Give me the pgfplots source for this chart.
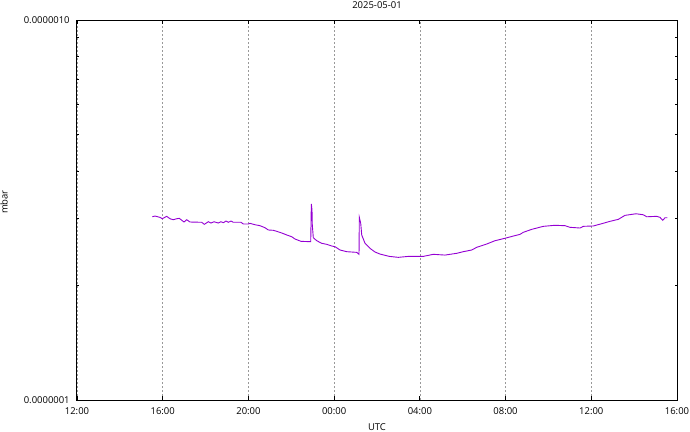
\documentclass[border=0pt]{standalone}
\usepackage{fontspec}
\setmainfont{Open Sans}
\usepackage{pgfplots}
\pgfplotsset{compat=1.18}
\definecolor{dv}{HTML}{9400D3}
\begin{document}
\fontsize{9.5}{11}\selectfont
\begin{tikzpicture}
\useasboundingbox (-77bp,-32bp) rectangle (613bp,400bp);
\begin{axis}[
  scale only axis, width=600bp, height=380bp,
  xmin=0, xmax=28, ymode=log, ymin=1e-7, ymax=1e-6,
  xtick={0,4,...,28},
  xticklabels={12:00,16:00,20:00,00:00,04:00,08:00,12:00,16:00},
  ytick={1e-7,1e-6}, yticklabels={0.0000001,0.0000010},
  minor ytick={2e-7,3e-7,4e-7,5e-7,6e-7,7e-7,8e-7,9e-7},
  xmajorgrids=true,
  grid style={dash pattern=on 2bp off 2bp, black!40, line width=0.7bp},
  tick align=inside, major tick length=4bp, minor tick length=2.5bp,
  axis line style={line width=1bp},
  every tick/.style={black, line width=0.8bp},
  /pgf/number format/assume math mode=true,
  every axis title shift=0pt,
  title={2025-05-01}, xlabel={UTC}, ylabel={mbar},
  title style={at={(axis description cs:0.5,1.0308)}, anchor=base, inner sep=0pt},
  xlabel style={at={(axis description cs:0.5,-0.0808)}, anchor=base, inner sep=0pt},
  ylabel style={at={(axis description cs:-0.1158,0.521)}, anchor=base, inner sep=0pt},
  xticklabel style={anchor=base, yshift=-14bp},
  yticklabel style={anchor=east, xshift=-4bp},
  clip=false,
]
\addplot[dv, line width=0.9bp] coordinates {
(3.514,3.036e-7) (3.640,3.049e-7) (3.873,3.025e-7) (3.981,3.000e-7) (4.186,3.044e-7)
(4.340,3.000e-7) (4.494,2.982e-7) (4.653,3.000e-7) (4.774,3.007e-7) (4.994,2.941e-7)
(5.120,2.982e-7) (5.274,2.941e-7) (5.820,2.936e-7) (5.941,2.900e-7) (6.128,2.946e-7)
(6.254,2.923e-7) (6.394,2.946e-7) (6.594,2.923e-7) (6.720,2.946e-7) (6.828,2.929e-7)
(6.954,2.958e-7) (7.061,2.936e-7) (7.187,2.958e-7) (7.294,2.936e-7) (7.654,2.936e-7)
(7.761,2.905e-7) (7.994,2.905e-7) (8.074,2.917e-7) (8.307,2.893e-7) (8.540,2.876e-7)
(8.774,2.841e-7) (8.928,2.802e-7) (9.161,2.797e-7) (9.320,2.780e-7) (9.553,2.752e-7)
(9.787,2.719e-7) (10.020,2.690e-7) (10.174,2.653e-7) (10.454,2.616e-7) (10.907,2.610e-7)
(10.935,3.280e-7) (10.967,3.162e-7) (10.981,2.887e-7) (11.028,2.674e-7) (11.187,2.626e-7)
(11.420,2.585e-7) (11.654,2.569e-7) (11.887,2.543e-7) (12.041,2.532e-7) (12.274,2.482e-7)
(12.587,2.457e-7) (13.054,2.447e-7) (13.161,2.418e-7)
(13.175,3.025e-7) (13.241,2.917e-7) (13.287,2.719e-7) (13.441,2.585e-7) (13.674,2.507e-7)
(13.908,2.452e-7) (14.141,2.422e-7) (14.575,2.388e-7) (14.995,2.374e-7) (15.461,2.388e-7)
(16.161,2.388e-7) (16.628,2.418e-7) (17.175,2.407e-7) (17.721,2.433e-7) (18.028,2.457e-7)
(18.421,2.482e-7) (18.654,2.523e-7) (19.121,2.574e-7) (19.508,2.626e-7) (19.975,2.665e-7)
(20.362,2.701e-7) (20.674,2.729e-7) (20.828,2.763e-7) (21.221,2.813e-7) (21.762,2.865e-7)
(22.307,2.883e-7) (22.774,2.876e-7) (23.008,2.848e-7) (23.474,2.836e-7) (23.628,2.865e-7)
(24.095,2.871e-7) (24.487,2.911e-7) (24.874,2.953e-7) (25.262,2.989e-7) (25.574,3.062e-7)
(26.088,3.092e-7) (26.428,3.073e-7) (26.587,3.036e-7) (27.054,3.044e-7) (27.208,3.025e-7)
(27.334,2.971e-7) (27.441,3.018e-7) (27.548,3.018e-7)
};
\end{axis}
\end{tikzpicture}
\end{document}
